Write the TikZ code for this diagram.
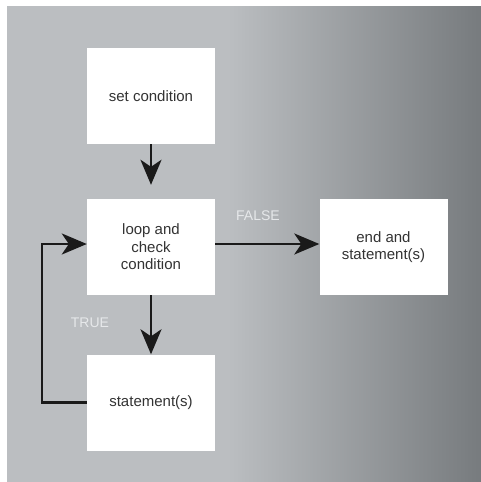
\documentclass[tikz,border=0pt]{standalone}
\usepackage{fontspec}
\setsansfont{Liberation Sans}
\usepackage{tikz}
\usetikzlibrary{arrows.meta,positioning}
\definecolor{Paper}{HTML}{BBBEC1}
\definecolor{Shadow}{HTML}{777B7E}
\definecolor{Ink}{HTML}{1A1A1A}
\definecolor{Type}{HTML}{333333}
\definecolor{Tag}{HTML}{E6E8EA}

\begin{document}
\begin{tikzpicture}[x=1pt,y=-1pt,
    box/.style={fill=white,minimum width=128pt,minimum height=96pt,inner sep=0pt,
      align=center,text=Type,font=\sffamily\fontsize{15}{17.5}\selectfont},
    flow/.style={Ink,line width=2.5pt,-{Stealth[length=25pt,width=21pt,inset=7pt]}},
    tag/.style={Tag,font=\sffamily\fontsize{14}{16}\selectfont}]
  \useasboundingbox (0,0) rectangle (481,482);
  % backdrop: flat grey, then darkening to the right
  \fill[white] (0,0) rectangle (481,482);
  \fill[Paper] (7,6) rectangle (228,482);
  \shade[left color=Paper,right color=Shadow] (228,6) rectangle (481,482);
  % the four steps
  \node[box] (set)  at (151,96)    {set condition};
  \node[box] (loop) at (151,247)   {loop and\\check\\condition};
  \node[box] (stmt) at (151,402.5) {statement(s)};
  \node[box] (end)  at (383.5,247) {end and\\statement(s)};
  % connectors
  \draw[flow,shorten >=14pt] (set) -- (loop);
  \draw[flow] (loop) -- (stmt);
  \draw[flow] ([yshift=3pt]loop.east) -- ([yshift=3pt]end.west);
  \draw[flow] (stmt.west) -- ++(-45,0) |- ([yshift=3pt]loop.west);
  \node[tag] (false) at (258,216) {FALSE};
  \node[tag] (true)  at (90,323)  {TRUE};
\end{tikzpicture}
\end{document}
